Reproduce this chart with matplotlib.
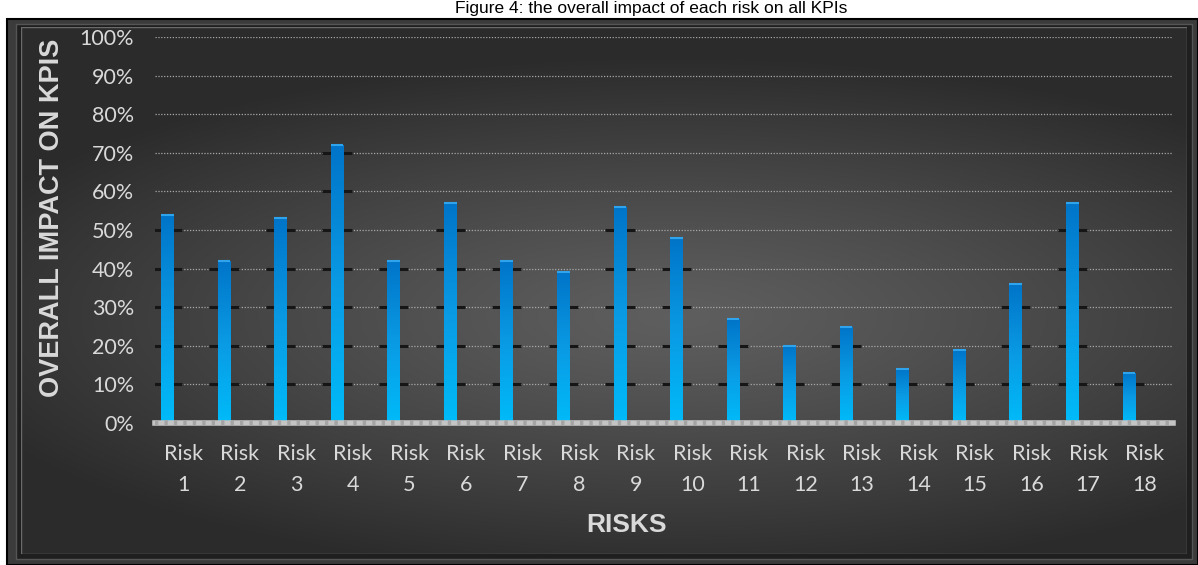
import matplotlib
matplotlib.use('Agg')
import matplotlib.pyplot as plt
import numpy as np
from matplotlib.patches import Rectangle
from matplotlib.colors import LinearSegmentedColormap

# data
risks = ["Risk\n" + str(i) for i in range(1, 19)]
impact = [54, 42, 53, 72, 42, 57, 42, 39, 56, 48, 27, 20, 25, 14, 19, 36, 57, 13]
yticks = [0, 10, 20, 30, 40, 50, 60, 70, 80, 90, 100]
ytick_labels = [str(t) + "%" for t in yticks]

W, H = 1198, 565
fig = plt.figure(figsize=(W / 100, H / 100), dpi=100)
fig.patch.set_facecolor("white")


def box(x0, y0, x1, y1):
    # pixel box (top-left origin) -> figure fraction rect
    return [x0 / W, 1 - y1 / H, (x1 - x0) / W, (y1 - y0) / H]


# bevelled frame (drawn under the axes)
fr = box(7, 19, 1198, 565)
fig.patches.append(Rectangle(fr[:2], fr[2], fr[3], transform=fig.transFigure,
                             facecolor="#3b3b3b", edgecolor="black", lw=1.5, zorder=-3))
fr = box(16, 24, 1192, 559)
fig.patches.append(Rectangle(fr[:2], fr[2], fr[3], transform=fig.transFigure,
                             facecolor="#1f1f1f", edgecolor="#555555", lw=1.0, zorder=-2))

# radial gradient panel
bg = fig.add_axes(box(21, 27, 1187, 554), zorder=-1)
gx, gy = np.meshgrid(np.linspace(0, 1, 600), np.linspace(0, 1, 300))
d = np.sqrt(((gx - 0.56) / 1.0) ** 2 + ((gy - 0.55) / 0.75) ** 2)
g = 0.37 - 0.20 * np.clip(d / 0.66, 0, 1) ** 1.2
bg.imshow(np.dstack([g, g, g]), aspect="auto", extent=[0, 1, 0, 1], interpolation="bilinear")
bg.set_axis_off()
bg.add_patch(Rectangle((0, 0), 1, 1, transform=bg.transAxes, fill=False,
                       edgecolor="#6a6a6a", lw=1.0))

ax = fig.add_axes(box(155, 37, 1173, 423), zorder=1)
ax.set_facecolor("none")

x = np.arange(len(impact))
xb = x - 0.28
bw = 0.225

# dark shadow segments on gridlines around each bar
for xi, v in zip(xb, impact):
    lv = [t for t in yticks[1:] if t < v - 0.5]
    if lv:
        ax.hlines(lv, xi - 0.26, xi + 0.26, color="#161616", lw=2.2, zorder=2)

bar_cmap = LinearSegmentedColormap.from_list("bar", ["#00bbf9", "#0a9ae4", "#0074c8"])
grad = np.linspace(0, 1, 256).reshape(-1, 1)
bars = ax.bar(xb, impact, width=bw, color="none", edgecolor="none", zorder=3)
for b in bars:
    im = ax.imshow(grad, cmap=bar_cmap, origin="lower", aspect="auto",
                   extent=[b.get_x(), b.get_x() + b.get_width(), 0, b.get_height()], zorder=3)
    im.set_clip_path(b)
ax.hlines(impact, xb - bw / 2, xb + bw / 2, color="#2fa4ec", lw=1.5, zorder=4)

ax.set_xlim(-0.5, len(impact) - 0.5)
ax.set_ylim(0, 100)

ax.set_yticks(yticks)
ax.set_yticklabels(ytick_labels)
ax.set_xticks(x)
ax.set_xticklabels(risks, linespacing=1.7)
ax.tick_params(axis="both", length=0, colors="#d9d9d9", labelsize=15.5)
ax.tick_params(axis="y", pad=15)
ax.tick_params(axis="x", pad=15)
for lab in ax.get_xticklabels() + ax.get_yticklabels():
    lab.set_family("Lato")

ax.yaxis.grid(True, color="#a8a8a8", lw=0.9, linestyle=(0, (1, 1.3)), zorder=1)
ax.set_axisbelow(True)
for s in ["left", "right", "top", "bottom"]:
    ax.spines[s].set_visible(False)
ax.axhline(0, color="#c4c4c4", lw=4, zorder=5, clip_on=False)
ax.axhline(0, color="#a4a4a4", lw=4, linestyle=(0, (0.6, 1.1)), zorder=5, clip_on=False)

fig.text(52 / W, 1 - 218 / H, "OVERALL IMPACT ON KPIS", rotation=90, ha="center", va="center",
         fontsize=19.5, fontweight="bold", family="Liberation Sans", color="#d9d9d9")
fig.text(626 / W, 1 - 525 / H, "RISKS", ha="center", va="center",
         fontsize=19, fontweight="bold", family="Liberation Sans", color="#d9d9d9")
fig.text(651 / W, 1 - 1 / H, "Figure 4: the overall impact of each risk on all KPIs",
         ha="center", va="top", fontsize=12.5, family="Liberation Sans", color="black")

fig.savefig("out.png", dpi=100, facecolor=fig.get_facecolor())
